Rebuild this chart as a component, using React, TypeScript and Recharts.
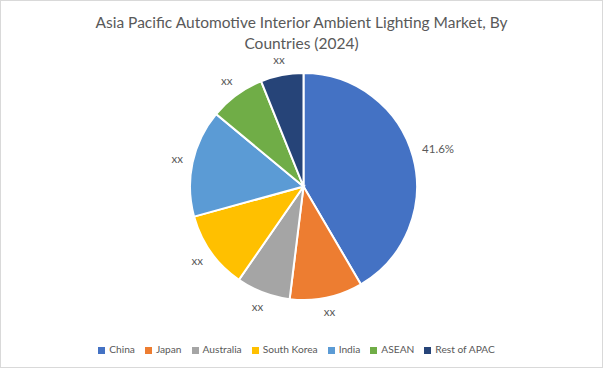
import React from "react";
import { PieChart, Pie, Cell, Legend } from "recharts";

const categories = ["China", "Japan", "Australia", "South Korea", "India", "ASEAN", "Rest of APAC"];
const shares = [41.6, 10.4, 7.7, 11.1, 15.3, 7.9, 6.1];
const labels = ["41.6%", "xx", "xx", "xx", "xx", "xx", "xx"];
const colors = ["#4472C4", "#ED7D31", "#A5A5A5", "#FFC000", "#5B9BD5", "#70AD47", "#264478"];
const titleLines = ["Asia Pacific Automotive Interior Ambient Lighting Market, By", "Countries (2024)"];

const data = categories.map((name, i) => ({ name, value: shares[i], label: labels[i] }));

const FONT = "Lato, 'Open Sans', sans-serif";
const RAD = Math.PI / 180;

const renderLabel = (props: any) => {
  const { cx, cy, midAngle, outerRadius, index } = props;
  const text = labels[index];
  const halfW = text.length * 3.5;
  const halfH = 6;
  const c = Math.cos(-midAngle * RAD);
  const s = Math.sin(-midAngle * RAD);
  const d = outerRadius + 7.5 + halfW * Math.abs(c) + halfH * Math.abs(s);
  const x = cx + d * c;
  const y = cy + d * s;
  return (
    <text
      x={x}
      y={y + 3.5}
      textAnchor="middle"
      fill="#595959"
      fontSize={11.5}
      fontFamily={FONT}
    >
      {text}
    </text>
  );
};

const legendPayload = categories.map((name, i) => ({
  value: name,
  type: "square" as const,
  color: colors[i],
  id: name,
}));

export default function App() {
  return (
    <div
      style={{
        position: "absolute",
        left: 0,
        top: 0,
        width: 603,
        height: 368,
        background: "#fff",
        boxSizing: "border-box",
        border: "1px solid #D9D9D9",
      }}
    >
      {titleLines.map((line, i) => (
        <div
          key={i}
          style={{
            position: "absolute",
            left: 0,
            top: 12.5 + i * 21.5,
            width: 601,
            textAlign: "center",
            fontFamily: FONT,
            fontSize: 15.5,
            lineHeight: "16px",
            color: "#595959",
            whiteSpace: "nowrap",
          }}
        >
          {line}
        </div>
      ))}
      <PieChart
        width={601}
        height={366}
        margin={{ top: 0, right: 0, bottom: 0, left: 0 }}
        style={{ position: "absolute", left: 0, top: 0 }}
      >
        <Pie
          data={data}
          dataKey="value"
          nameKey="name"
          cx={302.5}
          cy={185.5}
          outerRadius={113.5}
          startAngle={90}
          endAngle={-270}
          stroke="#fff"
          strokeWidth={2}
          label={renderLabel}
          labelLine={false}
          isAnimationActive={false}
        >
          {data.map((d, i) => (
            <Cell key={d.name} fill={colors[i]} />
          ))}
        </Pie>
        <Legend
          payload={legendPayload}
          itemSorter={null as any}
          verticalAlign="bottom"
          align="center"
          iconType="square"
          iconSize={7}
          wrapperStyle={{ bottom: 12, fontFamily: FONT, fontSize: 10.2 }}
          formatter={(v: string) => <span style={{ color: "#595959" }}>{v}</span>}
        />
      </PieChart>
    </div>
  );
}
